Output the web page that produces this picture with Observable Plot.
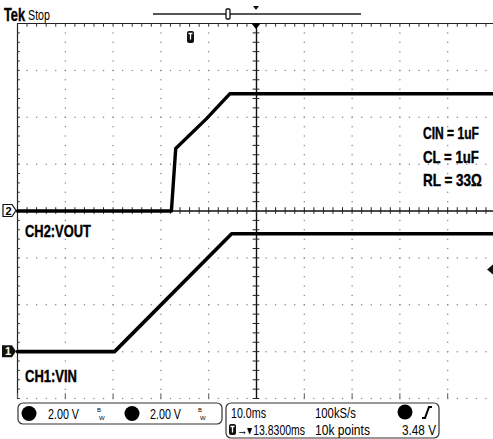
<!DOCTYPE html>
<html><head><meta charset="utf-8">
<script src="https://cdn.jsdelivr.net/npm/d3@7"></script>
<script src="https://cdn.jsdelivr.net/npm/@observablehq/plot@0.6"></script>
<style>
html,body{margin:0;padding:0;background:#fff;}
#chart{position:relative;width:493px;height:439px;overflow:hidden;}
svg{display:block;}
</style></head><body><div id="chart"></div>
<script>
// ---- data ----
const ch1TimeMs = [-50, -29.7, -5.2, 50];
const ch1Volts  = [0, 0, 5.03, 5.03];
const ch2TimeMs = [-50, -17.8, -16.9, -10.5, -5.6, 50];
const ch2Volts  = [0, 0, 2.67, 3.93, 5.0, 5.0];
const voltsPerDiv = [2.00, 2.00];       // ch1, ch2
const channelOffsetDiv = [-3, 0];       // ch1, ch2 ground marker position
const msPerDiv = 10;
const triggerLevelV = 3.48;
const channelLabels = ["CH1:VIN", "CH2:VOUT"];
const noteLabels = ["CIN = 1uF", "CL = 1uF", "RL = 33Ω"];
const scaleReadouts = ["2.00 V", "2.00 V"];
const timeReadouts = ["10.0ms", "100kS/s", "3.48 V"];
const posReadouts = ["13.8300ms", "10k points"];

// ---- derived tables ----
const ch1 = ch1TimeMs.map((t, i) => ({t, y: ch1Volts[i] / voltsPerDiv[0] + channelOffsetDiv[0]}));
const ch2 = ch2TimeMs.map((t, i) => ({t, y: ch2Volts[i] / voltsPerDiv[1] + channelOffsetDiv[1]}));
const xMin = -5 * msPerDiv, xMax = 5 * msPerDiv, minorX = msPerDiv / 5;
const xMinor = d3.range(xMin, xMax + 0.001, minorX);
const yMinor = d3.range(-4, 4.001, 0.2);
const xMajor = d3.range(-4, 5).filter(d => d !== 0).map(d => d * msPerDiv);
const yMajor = d3.range(-3, 4).filter(d => d !== 0);
const dots = [];
for (const x of xMajor) for (const y of yMinor) dots.push({x, y});
for (const y of yMajor) for (const x of xMinor) dots.push({x, y});
for (const x of xMinor) dots.push({x, y: -4});

const svgPlot = Plot.plot({
  width: 493, height: 439,
  marginLeft: 17, marginTop: 23, marginRight: 0, marginBottom: 41,
  x: {domain: [xMin, xMax], range: [17, 495], axis: null},
  y: {domain: [-4, 4], range: [398, 23], axis: null},
  style: {background: "#fff", overflow: "visible"},
  marks: [
    Plot.dot(dots, {x: "x", y: "y", r: 0.75, fill: "#888", stroke: "none"}),
    // edges
    Plot.ruleY([4], {stroke: "#222", strokeWidth: 1.2}),
    Plot.ruleX([xMin], {stroke: "#222", strokeWidth: 1.2}),
    Plot.ruleX(xMinor, {x: d => d, y1: 4, y2: 3.92, stroke: "#333"}),
    Plot.ruleY(yMinor, {y: d => d, x1: xMin, x2: xMin + 0.6, stroke: "#333"}),
    Plot.ruleX(xMajor.concat([xMin, 0]), {x: d => d, y1: -4, y2: -3.9, stroke: "#555"}),
    // center cross
    Plot.ruleX([0], {stroke: "#111", strokeWidth: 1.4}),
    Plot.ruleY([0], {stroke: "#111", strokeWidth: 1.4}),
    Plot.ruleX(xMinor, {x: d => d, y1: -0.07, y2: 0.07, stroke: "#222"}),
    Plot.ruleY(yMinor, {y: d => d, x1: -0.7, x2: 0.7, stroke: "#222"}),
    // traces
    Plot.line(ch2, {x: "t", y: "y", stroke: "#000", strokeWidth: 3.4}),
    Plot.line(ch1, {x: "t", y: "y", stroke: "#000", strokeWidth: 3.6})
  ]
});
document.getElementById("chart").appendChild(svgPlot);

const xs = svgPlot.scale("x"), ys = svgPlot.scale("y");
const X = t => xs.apply(t), Y = v => ys.apply(v);
const svg = d3.select(svgPlot);
const narrow = "'Liberation Sans Narrow','Arial Narrow','Liberation Sans',sans-serif";
const g = svg.append("g").attr("font-family", narrow).attr("text-anchor", "start").attr("fill", "#000");

// helper: text horizontally squeezed to the narrow width of the scope font
function label(x, y, s, size, w, opts = {}) {
  const grp = g.append("g");
  const t = grp.append("text").attr("x", 0).attr("y", 0).attr("font-size", size).text(s);
  if (opts.bold) t.attr("font-weight", "bold").attr("stroke", "#000").attr("stroke-width", 0.4);
  if (opts.fill) t.attr("fill", opts.fill);
  const natural = t.node().getComputedTextLength() || w;
  grp.attr("transform", `translate(${x},${y}) scale(${w / natural},1)`);
  return t;
}

// annotations inside graticule
label(25, Y(-0.565), channelLabels[1], 16.5, 66, {bold: true});
label(25, Y(-3.66), channelLabels[0], 16.5, 52, {bold: true});
const noteW = [56, 56, 59];
noteLabels.forEach((s, i) => label(423, 139 + i * 23.5, s, 16.5, noteW[i], {bold: true}));

// header
label(4, 21, "Tek", 17.5, 21, {bold: true});
label(28, 20, "Stop", 15, 22);
g.append("line").attr("x1", 153).attr("x2", 361).attr("y1", 14).attr("y2", 14).attr("stroke", "#555").attr("stroke-width", 2);
g.append("rect").attr("x", 226).attr("y", 9).attr("width", 4).attr("height", 10).attr("rx", 1).attr("fill", "#fff").attr("stroke", "#111").attr("stroke-width", 1.3);
g.append("path").attr("d", `M${X(0)-3},6 h6 l-3,4 z`).attr("fill", "#111");
g.append("path").attr("d", `M${X(0)-5},23 h10 l-5,6 z`).attr("fill", "#000");
// trigger position "T" icon
g.append("rect").attr("x", 187).attr("y", 31).attr("width", 7).attr("height", 12).attr("rx", 2).attr("fill", "#111");
g.append("path").attr("d", "M188.5,33.5 h4 M190.5,33.5 v6").attr("stroke", "#fff").attr("stroke-width", 1.3);

// channel ground markers
const y2 = Y(channelOffsetDiv[1]), y1 = Y(channelOffsetDiv[0]);
g.append("path").attr("d", `M3,${y2-6} h9 l4,6 l-4,6 h-9 z`).attr("fill", "#fff").attr("stroke", "#111").attr("stroke-width", 1.2);
g.append("text").attr("x", 8.5).attr("y", y2 + 4).attr("text-anchor", "middle").attr("font-size", 11).attr("font-weight", "bold").text("2");
g.append("path").attr("d", `M2,${y1-6} h10 l4,6 l-4,6 h-10 z`).attr("fill", "#111");
g.append("text").attr("x", 8).attr("y", y1 + 4).attr("text-anchor", "middle").attr("font-size", 11).attr("font-weight", "bold").attr("fill", "#fff").text("1");
// trigger level marker (on ch1)
const yT = Y(triggerLevelV / voltsPerDiv[0] + channelOffsetDiv[0]);
g.append("path").attr("d", `M487,${yT} l6,-5 v10 z`).attr("fill", "#111");

// bottom readouts
g.append("rect").attr("x", 18).attr("y", 403).attr("width", 204).attr("height", 21).attr("rx", 5).attr("fill", "none").attr("stroke", "#333").attr("stroke-width", 1.2);
[[29, 48, 97], [132, 150, 198]].forEach(([cx, tx, bx], i) => {
  g.append("circle").attr("cx", cx).attr("cy", 413.5).attr("r", 7.5).attr("fill", "#000");
  label(tx, 419, scaleReadouts[i], 15, 31);
  g.append("text").attr("x", bx).attr("y", 412).attr("font-size", 6).text("B");
  g.append("text").attr("x", bx + 2).attr("y", 420).attr("font-size", 6).text("W");
});
g.append("rect").attr("x", 226).attr("y", 403).attr("width", 213).attr("height", 35).attr("rx", 5).attr("fill", "none").attr("stroke", "#333").attr("stroke-width", 1.2);
label(231, 418, timeReadouts[0], 14.5, 35);
label(315, 418, timeReadouts[1], 14.5, 41);
g.append("circle").attr("cx", 405).attr("cy", 412).attr("r", 7.5).attr("fill", "#000");
g.append("path").attr("d", "M422,418 h3 l4,-11 h3").attr("fill", "none").attr("stroke", "#000").attr("stroke-width", 2);
g.append("rect").attr("x", 229).attr("y", 424).attr("width", 7).attr("height", 11).attr("rx", 2).attr("fill", "#111");
g.append("path").attr("d", "M230.5,426.5 h4 M232.5,426.5 v6").attr("stroke", "#fff").attr("stroke-width", 1.3);
label(237, 435, "→▾" + posReadouts[0], 14.5, 68);
label(315, 435, posReadouts[1], 14.5, 55);
label(402, 435, timeReadouts[2], 14.5, 34);
</script></body></html>
